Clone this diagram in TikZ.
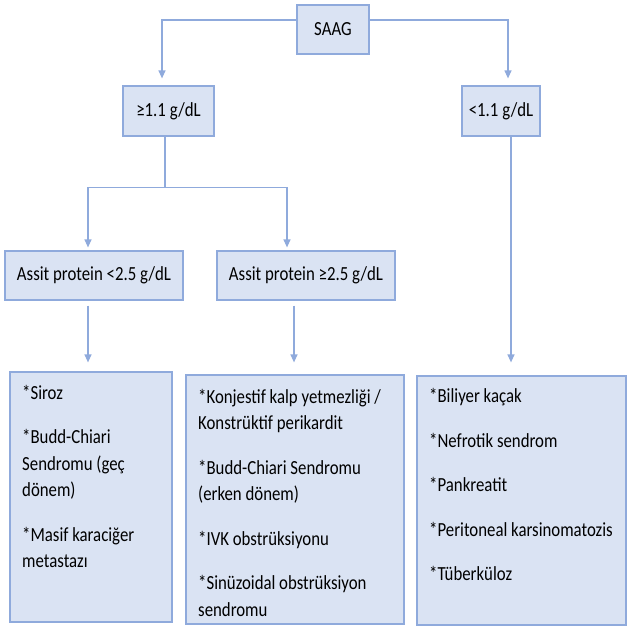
\documentclass[tikz,border=0pt]{standalone}
\usepackage{fontspec}
\setmainfont{Carlito}[FakeStretch=0.84]
\usetikzlibrary{arrows.meta}
\definecolor{boxfill}{HTML}{DAE3F3}
\definecolor{boxline}{HTML}{8FAADC}
\begin{document}
\begin{tikzpicture}[x=1pt,y=1pt,
  box/.style={draw=boxline,fill=boxfill,line width=1.2pt,inner sep=0pt,
    font=\fontsize{20}{26.5}\selectfont},
  list/.style={anchor=north west,inner sep=0pt,align=left,
    font=\fontsize{20}{26.5}\selectfont},
  link/.style={draw=boxline,line width=1.2pt},
  arr/.style={link,-{Triangle[width=7pt,length=8pt]}}]
\useasboundingbox (0,0) rectangle (628,-626);

% decision boxes
\node[box,minimum width=72,minimum height=49]  (saag) at (333,-29.5) {SAAG};
\node[box,minimum width=91,minimum height=50]  (ge11) at (168.5,-111) {≥1.1 g/dL};
\node[box,minimum width=78,minimum height=50]  (lt11) at (501,-111) {<1.1 g/dL};
\node[box,minimum width=178,minimum height=49] (ap1)  at (94,-275.5) {Assit protein <2.5 g/dL};
\node[box,minimum width=178,minimum height=49] (ap2)  at (306,-275.5) {Assit protein ≥2.5 g/dL};

% result boxes
\node[box,minimum width=162,minimum height=250] (r1) at (91,-497) {};
\node[box,minimum width=218,minimum height=249] (r2) at (295,-499.5) {};
\node[box,minimum width=209,minimum height=249] (r3) at (521.5,-500.5) {};

\node[list] (t1) at (22,-385) {*Siroz\\[18pt]*Budd-Chiari\\Sendromu (geç\\dönem)\\[18pt]*Masif karaciğer\\metastazı};
\node[list] (t2) at (198,-389) {*Konjestif kalp yetmezliği /\\Konstrüktif perikardit\\[18pt]*Budd-Chiari Sendromu\\(erken dönem)\\[18pt]*IVK obstrüksiyonu\\[18pt]*Sinüzoidal obstrüksiyon\\sendromu};
\node[list] (t3) at (429,-388.5) {*Biliyer kaçak\\[18pt]*Nefrotik sendrom\\[18pt]*Pankreatit\\[18pt]*Peritoneal karsinomatozis\\[18pt]*Tüberküloz};

% connectors
\draw[arr,shorten >=7pt] ([yshift=9.5pt]saag.west) -| ([xshift=-6.5pt]ge11.north);
\draw[arr,shorten >=7pt] ([yshift=9.5pt]saag.east) -| ([xshift=7pt]lt11.north);
\draw[link] ([xshift=-3.5pt]ge11.south) -- ++(0,-51) coordinate (j1);
\draw[arr,shorten >=3pt] (j1) -| ([xshift=-6pt]ap1.north);
\draw[arr,shorten >=3pt] (j1) -| ([xshift=-19pt]ap2.north);
\draw[arr,shorten <=5pt,shorten >=9pt] ([xshift=-6pt]ap1.south) -- ([xshift=-3pt]r1.north);
\draw[arr,shorten <=5pt,shorten >=12pt] ([xshift=-12pt]ap2.south) -- ([xshift=-1pt]r2.north);
\draw[arr,shorten >=13pt] ([xshift=10pt]lt11.south) -- ([xshift=-10.5pt]r3.north);
\end{tikzpicture}
\end{document}
